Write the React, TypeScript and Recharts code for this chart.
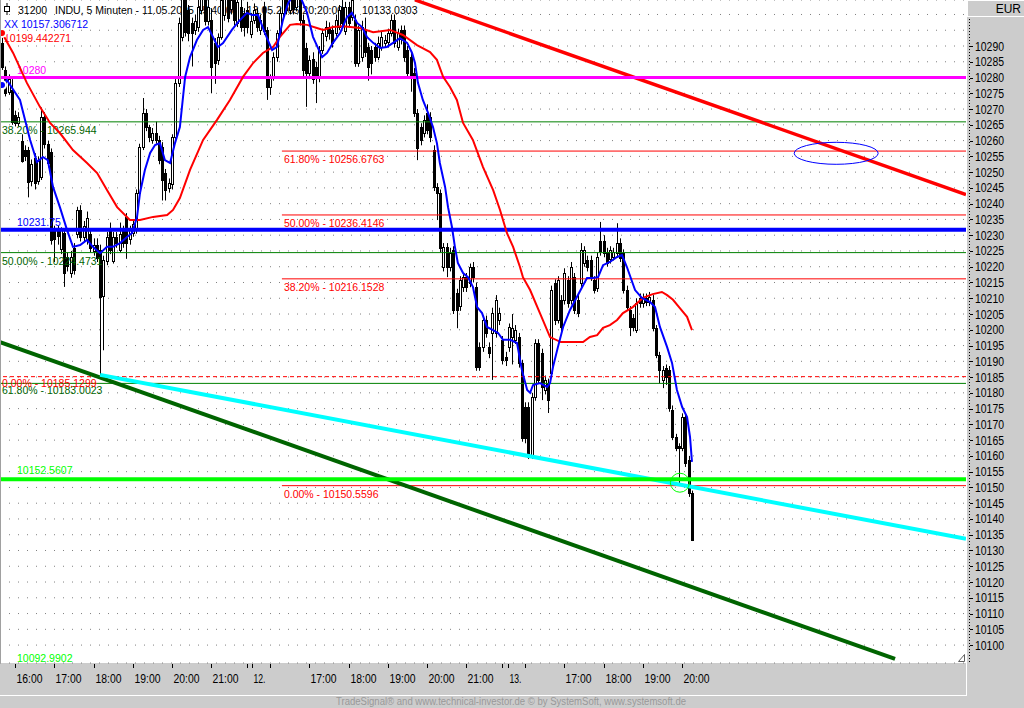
import React from "react";
import {
  ComposedChart,
  Bar,
  Line,
  XAxis,
  YAxis,
  CartesianGrid,
  ReferenceLine,
  ReferenceDot,
  Customized,
} from "recharts";

const FONT = "'Liberation Sans', Arial, sans-serif";
const FS = 10.5;

// INDU 5-minute bars, 11.05.2005 15:40 .. 13.05.2005 20:20 (bar index 0..211)
const opens = [
  10291, 10282.4, 10275.5, 10276, 10268, 10265.5, 10260, 10257, 10257, 10247,
  10254.5, 10247, 10248.5, 10267.5, 10259, 10256.4, 10231.5, 10231.5, 10225.5, 10230.7,
  10223, 10218, 10226, 10230.5, 10238, 10229.5, 10228.5, 10230.5, 10225, 10227,
  10225.3, 10210.5, 10222, 10231.5, 10222, 10229.5, 10225.5, 10231.5, 10235.8, 10228.5,
  10230.5, 10231.6, 10243.4, 10258, 10268.7, 10264.3, 10260.2, 10262.4, 10260.2, 10258,
  10249.7, 10245, 10246, 10261, 10278.2, 10293, 10306, 10301.4, 10297.3, 10295,
  10296, 10301.5, 10305, 10298, 10298.2, 10291, 10285.6, 10292.9, 10300, 10305,
  10301.5, 10304.5, 10297.3, 10302.5, 10300.5, 10301.5, 10294, 10298.2, 10300.5, 10295,
  10302.5, 10295, 10277, 10280, 10286.5, 10294, 10300.5, 10305.5, 10301.5, 10306,
  10302.5, 10304.5, 10298.2, 10289.4, 10281.5, 10286, 10283.4, 10280, 10288.7, 10293,
  10296, 10295, 10294, 10296, 10302.5, 10295, 10302.5, 10299, 10298.2, 10284.6,
  10286.5, 10295, 10289.7, 10288.7, 10289.7, 10286.5, 10289.7, 10290.9, 10291, 10294,
  10298.2, 10289.7, 10295, 10295, 10288.7, 10286.5, 10281.4, 10268.7, 10264.3, 10262.4,
  10268.7, 10267.5, 10257, 10245.3, 10243.4, 10220, 10226.3, 10220, 10225.3, 10211.6,
  10207.5, 10213.6, 10216.7, 10214.8, 10219.9, 10213.6, 10194.5, 10194.5, 10203.1, 10194.5,
  10199, 10199, 10203.1, 10196.8, 10191.4, 10194.5, 10197.7, 10196.8, 10197.7, 10189.4,
  10175.5, 10175.5, 10159.6, 10178.7, 10195.8, 10192.6, 10181, 10183, 10186.3, 10214.8,
  10203.1, 10209.5, 10209.5, 10215.8, 10209.5, 10216.7, 10209.5, 10214.8, 10221.2, 10222.1,
  10222.1, 10215.8, 10213.2, 10228, 10228, 10224.7, 10222.5, 10223.1, 10224.3, 10227.5,
  10224.3, 10212.6, 10206.3, 10203.7, 10200, 10210, 10208.5, 10210, 10208.8, 10209.5,
  10200.6, 10192, 10184.1, 10187.8, 10187.2, 10174.6, 10166, 10163, 10162.5, 10172.3,
  10158.7, 10148.2,
];

const highs = [
  10294, 10283.5, 10281, 10279.5, 10269.5, 10269, 10262, 10258.5, 10258, 10254,
  10256, 10255, 10270.5, 10269, 10260, 10257.5, 10233, 10233, 10232.5, 10232,
  10224.5, 10225, 10227.5, 10239, 10239.5, 10234.5, 10237.5, 10232, 10229, 10229,
  10227, 10223.5, 10231, 10234, 10231, 10231, 10234, 10233, 10237, 10233,
  10235, 10244.5, 10259, 10273.5, 10270, 10265, 10264, 10266, 10261.5, 10259.5,
  10251, 10248, 10262, 10279.5, 10299, 10309, 10310, 10303, 10299, 10300,
  10306, 10308, 10308, 10305, 10302, 10292.5, 10294, 10307, 10310, 10309,
  10310, 10308, 10307, 10305, 10302, 10304, 10300.5, 10303.5, 10302, 10300,
  10304, 10296, 10281, 10288, 10295, 10302, 10309, 10309, 10310, 10309,
  10310, 10308, 10300, 10291, 10287, 10288, 10285, 10290, 10295.5, 10298,
  10297.5, 10296.5, 10300, 10303, 10305, 10304, 10304, 10308, 10300, 10296.5,
  10298, 10299, 10291, 10290, 10291, 10293, 10294.5, 10293.5, 10295.5, 10300,
  10300, 10295.5, 10296.5, 10296.5, 10290, 10288, 10283, 10270, 10265.5, 10268,
  10271.5, 10269, 10258.5, 10246.5, 10244.5, 10227.5, 10227.5, 10226, 10226.5, 10213,
  10217, 10218, 10218, 10221, 10221.5, 10215, 10196, 10204.5, 10204.5, 10196,
  10207, 10211, 10207, 10198, 10193, 10202, 10205, 10201.5, 10199, 10190.5,
  10177, 10177, 10180, 10197, 10197, 10194, 10185.5, 10184.5, 10214, 10216,
  10217, 10211, 10219.5, 10217, 10221.5, 10218, 10211, 10227.5, 10226.5, 10223.5,
  10223.5, 10217, 10224.5, 10234.2, 10230, 10226, 10226.5, 10226, 10233.8, 10229,
  10225.5, 10214, 10207.5, 10205, 10210, 10211.5, 10211.5, 10211.5, 10212, 10211,
  10201.5, 10193, 10188.5, 10189, 10188.5, 10176, 10167, 10164, 10173.5, 10173.5,
  10160, 10149,
];

const lows = [
  10282.4, 10274, 10274.5, 10265, 10264.5, 10264.5, 10253, 10253.5, 10242, 10245.5,
  10244.5, 10246, 10247.5, 10257.5, 10251.5, 10227, 10221.5, 10227, 10224, 10213.6,
  10218.5, 10216.5, 10217.5, 10229, 10228, 10228, 10227, 10224.5, 10223.5, 10221.5,
  10185.1, 10193.5, 10220.5, 10224, 10221, 10226, 10224.5, 10226, 10222.5, 10227,
  10229.5, 10230.5, 10242.5, 10257, 10263, 10259.5, 10259, 10259, 10252.5, 10241,
  10241, 10243.5, 10244.5, 10260, 10277, 10291.5, 10293, 10291.5, 10283.5, 10293.5,
  10294.5, 10300, 10296.5, 10296.5, 10275, 10278, 10284, 10292, 10298, 10297.5,
  10300, 10296.5, 10296, 10294.5, 10293, 10294, 10292.5, 10297, 10294.5, 10293.5,
  10293.5, 10272.9, 10274.5, 10279, 10285, 10293, 10299, 10300, 10300, 10300,
  10301, 10296.5, 10280, 10270.7, 10279.5, 10278, 10271.9, 10278.5, 10287.5, 10291.5,
  10292, 10289.5, 10293, 10295, 10296, 10293.5, 10296, 10298, 10283.4, 10283.4,
  10285, 10286.5, 10279, 10281, 10285, 10285.5, 10288.5, 10289.5, 10289.5, 10293,
  10289.5, 10288.5, 10290.5, 10285, 10280, 10275.5, 10267.5, 10253.8, 10258.5, 10261,
  10262, 10259.5, 10244, 10234.8, 10224.5, 10218.5, 10216.7, 10218.5, 10205, 10200.5,
  10206, 10212, 10212, 10213.5, 10215, 10187, 10187, 10193, 10197.5, 10191,
  10184.1, 10197.5, 10201.5, 10189, 10188.5, 10193, 10189, 10195.5, 10188, 10164.5,
  10164, 10159, 10159, 10177.5, 10183, 10177.7, 10179.5, 10173.6, 10185, 10201.5,
  10202, 10199.5, 10208, 10207, 10208, 10205, 10204, 10213.5, 10220, 10218.5,
  10215.5, 10211.5, 10212, 10223.5, 10223, 10220, 10221, 10222, 10223, 10221.5,
  10211.5, 10206, 10198, 10199.5, 10199, 10207, 10207, 10207.5, 10207.5, 10199.5,
  10191, 10183, 10181.5, 10182.5, 10174, 10165, 10161.5, 10151.4, 10161.5, 10156.5,
  10147, 10133,
];

const closes = [
  10283.3, 10275, 10279.5, 10266, 10265.5, 10267.5, 10253.8, 10255, 10247, 10252.5,
  10246.5, 10253.5, 10267.5, 10259, 10253, 10228.5, 10228.5, 10229.5, 10231.5, 10218,
  10220, 10223, 10219, 10238, 10229.5, 10233, 10235.5, 10226, 10227, 10223,
  10210.5, 10222, 10229.5, 10225.3, 10229.5, 10227.5, 10230.5, 10227.5, 10227.5, 10231.5,
  10233.5, 10243.4, 10258, 10268.7, 10264.3, 10261, 10262.4, 10260.2, 10253.8, 10247.5,
  10244.3, 10246.5, 10261, 10278.2, 10297.3, 10306, 10294.5, 10294.1, 10294, 10298,
  10302.5, 10305.5, 10298, 10302.5, 10283.4, 10284.6, 10292.9, 10304.5, 10306, 10299,
  10304.5, 10298.2, 10304, 10296, 10296, 10296, 10298, 10301.4, 10296, 10298.2,
  10295, 10277, 10280, 10286.5, 10294, 10300.5, 10306, 10301.5, 10305.5, 10302,
  10306, 10298.2, 10282.4, 10281.4, 10285.6, 10279.8, 10280, 10288.7, 10294, 10296,
  10294, 10291, 10298.2, 10301.4, 10297.3, 10302.5, 10297.3, 10304.5, 10284.6, 10295,
  10296, 10288, 10283.4, 10284.6, 10286.5, 10291, 10292.9, 10291.9, 10294, 10298.2,
  10291, 10294, 10292, 10286.5, 10281.4, 10280, 10268.7, 10257.5, 10260.2, 10266.5,
  10263.4, 10261, 10245.3, 10243.4, 10225.9, 10226.3, 10220, 10224.3, 10206.3, 10206.3,
  10215.8, 10216.7, 10213.6, 10219.9, 10216.7, 10188.2, 10188.2, 10203.1, 10199, 10192.5,
  10205.3, 10209.5, 10205.3, 10190.4, 10190.4, 10200.9, 10200.6, 10199.9, 10189.4, 10165.6,
  10165.6, 10159.6, 10178.7, 10195.8, 10184.1, 10181.9, 10184.1, 10177.7, 10212.6, 10203.1,
  10215.8, 10201, 10218, 10208.5, 10220, 10206.3, 10205.3, 10225.3, 10225.3, 10220,
  10216.7, 10212.6, 10223.1, 10224.7, 10224.3, 10221.2, 10225.3, 10224.7, 10227.5, 10222.8,
  10212.6, 10207.2, 10200.9, 10200.9, 10208.5, 10208.5, 10210, 10208.8, 10210.5, 10200.6,
  10192, 10187.2, 10187.2, 10185, 10175.2, 10166, 10162.5, 10162.5, 10172.3, 10157.6,
  10148.2, 10133.3,
];

// blue average ("XX"), read at bar positions
const fastX = [
  0, 1.5, 5.5, 8.6, 10.7, 12.5, 14, 15.6, 17.7, 19.9,
  21.7, 23.9, 26, 27.8, 30, 32.1, 33.9, 36.1, 38.2, 39.8,
  41.3, 42.2, 43.7, 45.3, 46.8, 48.3, 49.8, 51.4, 52.9, 54.4,
  56, 57.5, 59.6, 61.5, 63, 64.5, 66, 67.6, 70.3, 72.2,
  74.9, 76.5, 78.3, 80.4, 82.6, 84.1, 85.9, 87.5, 89, 91.1,
  93.3, 95.1, 97.9, 99.4, 101.2, 103.4, 105.5, 107, 108.6, 110.1,
  111.6, 113.5, 115.6, 117.7, 119.6, 121.7, 123.9, 125.4, 126.3, 127.2,
  128.7, 130.3, 131.8, 133, 133.9, 135.5, 136.4, 137.6, 138.5, 139.4,
  141, 142.5, 144, 145.3, 146.8, 148.3, 150.2, 151.7, 153.2, 155.4,
  157.5, 159, 160.6, 161.5, 162.4, 164.5, 166.7, 167.6, 168.5, 170,
  171.6, 173.7, 175.8, 178.9, 180.7, 182.3, 183.8, 185.9, 188.1, 189.6,
  191.1, 193.6, 195.7, 198.2, 199.7, 201.2, 203.4, 204.9, 206.4, 208,
  209.5, 210.4, 211,
];
const fastY = [
  10277.6, 10279.2, 10272.9, 10260.2, 10253.2, 10254.8, 10253.8, 10245.3, 10238.9, 10231.6,
  10226.3, 10226.9, 10228.5, 10226.3, 10224.3, 10226.3, 10226.3, 10227.5, 10229.4, 10230.7,
  10235.8, 10243.4, 10250.7, 10256.1, 10258.6, 10259.2, 10253.8, 10252.9, 10259.2, 10264.3,
  10280.2, 10286.5, 10291.9, 10295.1, 10296.0, 10292.9, 10289.7, 10290.9, 10295.1, 10297.6,
  10300.5, 10299.8, 10299.8, 10294.1, 10288.7, 10289.7, 10298.2, 10303.6, 10306, 10306,
  10300.5, 10292.9, 10286.5, 10287.8, 10291.0, 10294.1, 10299.2, 10300.5, 10297.3, 10296.0,
  10292.9, 10291.0, 10289.4, 10289.7, 10291.0, 10292.5, 10291.0, 10287.8, 10284.6, 10278.3,
  10272.9, 10268.8, 10264.3, 10259.2, 10252.9, 10245.3, 10238.9, 10232.6, 10226.3, 10221.2,
  10218.0, 10216.7, 10213.6, 10207.2, 10205.3, 10200.9, 10199.9, 10199.0, 10196.8, 10196.8,
  10195.8, 10187.2, 10180.9, 10180.0, 10182.5, 10183.1, 10181.9, 10183.1, 10188.2, 10194.5,
  10200.9, 10206.3, 10210.4, 10216.4, 10216.4, 10216.7, 10220.5, 10221.5, 10223.1, 10223.7,
  10219.9, 10212.6, 10210.1, 10208.8, 10207.2, 10200.9, 10194.5, 10189.5, 10180.9, 10175.5,
  10172.3, 10166.0, 10158.1,
];

// red average
const slowX = [
  0, 3.4, 7.6, 11.6, 14.7, 17.7, 21.7, 26, 29.1, 32.1,
  35.2, 39.1, 42.2, 46.2, 50.5, 52.3, 54.4, 57.5, 61.5, 65.7,
  69.7, 73.7, 76.8, 79.8, 82.9, 85, 88.1, 90.2, 93.3, 96.3,
  98.2, 101.2, 104.3, 109.5, 113.5, 118.7, 122.6, 126.9, 130.9, 133,
  134.9, 137, 139.1, 141, 144, 147.1, 150.2, 152.3, 154.4, 156.3,
  158.4, 159.3, 161.5, 164.5, 167.6, 170.9, 174.6, 177.7, 179.8, 182,
  183.8, 185.9, 188.1, 189.9, 192.9, 196, 199, 201.8, 203.4, 205.2,
  207.3, 209.5, 211,
];
const slowY = [
  10294.1, 10287.8, 10278.3, 10270.7, 10265.6, 10262.4, 10257.0, 10252.9, 10249.7, 10244.3,
  10238.9, 10234.8, 10234.8, 10235.8, 10236.4, 10238.0, 10241.8, 10250.7, 10260.2, 10266.5,
  10272.9, 10280.2, 10284.6, 10287.8, 10289.7, 10292.9, 10296.7, 10297.0, 10296.7, 10295.7,
  10295.1, 10296.0, 10296.3, 10295.7, 10294.4, 10295.1, 10293.5, 10290.3, 10288.1, 10285.6,
  10280.2, 10277.0, 10272.9, 10265.6, 10260.2, 10251.6, 10244.3, 10238.0, 10230.7, 10226.3,
  10219.9, 10216.7, 10212.6, 10205.3, 10197.7, 10196.1, 10196.1, 10196.1, 10197.7, 10198.3,
  10200.6, 10201.5, 10203.1, 10205.3, 10207.2, 10210.1, 10211.3, 10212.0, 10211.0, 10209.5,
  10206.9, 10204.1, 10199.9,
];

const yTicks = [
  10100, 10105, 10110, 10115, 10120, 10125, 10130, 10135, 10140, 10145,
  10150, 10155, 10160, 10165, 10170, 10175, 10180, 10185, 10190, 10195,
  10200, 10205, 10210, 10215, 10220, 10225, 10230, 10235, 10240, 10245,
  10250, 10255, 10260, 10265, 10270, 10275, 10280, 10285, 10290, 10295, 10300,
];

const xTicks = [4, 16, 28, 40, 52, 64, 75, 76.5, 82, 94, 106, 118, 130, 142, 153, 154.7, 160, 172, 184, 196, 208];
const xTickLabels = [
  "16:00", "17:00", "18:00", "19:00", "20:00", "21:00", "", "12.", "",
  "17:00", "18:00", "19:00", "20:00", "21:00", "", "13.", "",
  "17:00", "18:00", "19:00", "20:00",
];

// fibonacci set 1 (dark green) and its 0% level (red dashed)
const greenFibValues = [10265.944, 10224.4731, 10183.0023];
const greenFibTexts = ["38.20% - 10265.944", "50.00% - 10224.4731", "61.80% - 10183.0023"];
// fibonacci set 2 (red), starting at bar 85.6
const redFibStart = 85.6;
const redFibValues = [10256.6763, 10236.4146, 10216.1528, 10150.5596];
const redFibTexts = ["61.80% - 10256.6763", "50.00% - 10236.4146", "38.20% - 10216.1528", "0.00% - 10150.5596"];

// trend lines [bar, price]
const redTrend = [{ x: 126.3, y: 10304.6 }, { x: 294.8, y: 10242.9 }];
const darkTrend = [{ x: -0.6, y: 10196.1 }, { x: 273.1, y: 10095.6 }];
const cyanTrend = [{ x: 30, y: 10185.7 }, { x: 294.8, y: 10133.7 }];

const X_DOMAIN = [-0.612, 294.8];
const Y_DOMAIN = [10094.32, 10304.59];

const candles = opens.map((o, i) => ({ i, o, h: highs[i], l: lows[i], c: closes[i] }));
const fastLine = fastX.map((x, k) => ({ i: x, v: fastY[k] }));
const slowLine = slowX.map((x, k) => ({ i: x, v: slowY[k] }));

function Candle(props: any) {
  const p = props.payload ?? props;
  let { x, y, width, height } = props;
  if (p == null || p.h == null) return <g />;
  if (height < 0) {
    y += height;
    height = -height;
  }
  const k = p.h > p.l ? height / (p.h - p.l) : 0;
  const cx = Math.round(x + width / 2);
  const yo = y + (p.h - p.o) * k;
  const yc = y + (p.h - p.c) * k;
  const top = Math.round(Math.min(yo, yc)) + 0.5;
  const bh = Math.max(Math.round(Math.abs(yc - yo)), 1);
  return (
    <g>
      <line x1={cx + 0.5} x2={cx + 0.5} y1={y} y2={y + height} stroke="#000" strokeWidth={1} />
      <rect x={cx - 0.5} y={top} width={2} height={bh} fill={p.c >= p.o ? "#fff" : "#000"} stroke="#000" strokeWidth={1} />
    </g>
  );
}

function Tag(props: any) {
  const { viewBox, text, color, dx, dy } = props;
  if (!viewBox) return null;
  return (
    <text x={viewBox.x + dx} y={viewBox.y + dy} fill={color} fontSize={FS} fontFamily={FONT}>
      {text}
    </text>
  );
}

function XTick(props: any) {
  const { x, payload } = props;
  const k = xTicks.indexOf(payload.value);
  const label = xTickLabels[k] || "";
  const px = Math.round(x) + 0.5;
  return (
    <g>
      <line x1={px} x2={px} y1={664} y2={668} stroke="#000" />
      {label ? (
        <text x={px + 1} y={683} fontSize={12.5} fontFamily={FONT} fill="#000" textLength={label.length > 3 ? 26 : 12} lengthAdjust="spacingAndGlyphs">
          {label}
        </text>
      ) : null}
    </g>
  );
}

function YTick(props: any) {
  const { y, payload } = props;
  if (payload.value > 10290) return <g />;
  const py = Math.round(y) + 0.5;
  return (
    <g>
      <line x1={970} x2={973} y1={py} y2={py} stroke="#000" />
      <text x={975} y={y + 4.5} fontSize={12} fontFamily={FONT} fill="#000" textLength={29} lengthAdjust="spacingAndGlyphs">
        {payload.value}
      </text>
    </g>
  );
}

function TitleLayer() {
  return (
    <g fontFamily={FONT} fontSize={FS}>
      <rect x={4.5} y={6.5} width={5} height={5} fill="none" stroke="#000" />
      <line x1={7} x2={7} y1={3} y2={6} stroke="#000" />
      <line x1={7} x2={7} y1={12} y2={15} stroke="#000" />
      <text x={18} y={14} fill="#000">31200</text>
      <text x={55} y={14} fill="#000">INDU, 5 Minuten - 11.05.2005 15:40:00 - 13.05.2005 20:20:00</text>
      <text x={362} y={14} fill="#000">10133.0303</text>
      <text x={4} y={27.5} fill="#0000ff">XX 10157.306712</text>
      <text x={4} y={41.5} fill="#ff0000">10199.442271</text>
      <text x={17} y={662} fill="#00ff00">10092.9902</text>
    </g>
  );
}

export default function App() {
  return (
    <div style={{ position: "absolute", left: 0, top: 0, width: 1024, height: 708, background: "#cccccc", overflow: "hidden" }}>
      <ComposedChart width={1024} height={708} data={candles} margin={{ top: 0, right: 0, bottom: 13, left: 0 }}>
        <CartesianGrid vertical={false} stroke="#808080" strokeDasharray="1 8" fill="#ffffff" fillOpacity={1} />
        <XAxis
          dataKey="i"
          type="number"
          domain={X_DOMAIN}
          allowDataOverflow
          ticks={xTicks}
          interval={0}
          tick={<XTick />}
          tickLine={false}
          axisLine={false}
          height={32}
        />
        <YAxis
          orientation="right"
          type="number"
          domain={Y_DOMAIN}
          allowDataOverflow
          ticks={yTicks}
          interval={0}
          tick={<YTick />}
          tickLine={false}
          axisLine={false}
          width={58}
        />
        <Customized component={TitleLayer} />
        <Bar dataKey={(d: any) => [d.l, d.h]} barSize={3} shape={<Candle />} isAnimationActive={false} />

        {greenFibValues.map((v, k) => (
          <ReferenceLine key={"g" + k} y={v} stroke="#008000" strokeWidth={1}
            label={<Tag text={greenFibTexts[k]} color="#006400" dx={2} dy={k === 2 ? 11 : 12} />} />
        ))}
        <ReferenceLine y={10185.1299} stroke="#ff0000" strokeWidth={1} strokeDasharray="4 3"
          label={<Tag text="0.00% - 10185.1299" color="#ff0000" dx={2} dy={10} />} />
        {redFibValues.map((v, k) => (
          <ReferenceLine key={"r" + k} segment={[{ x: redFibStart, y: v }, { x: X_DOMAIN[1], y: v }]} ifOverflow="hidden"
            stroke="#ff0000" strokeWidth={1}
            label={<Tag text={redFibTexts[k]} color="#ff0000" dx={2} dy={12} />} />
        ))}

        <ReferenceLine segment={darkTrend} ifOverflow="hidden" stroke="#006400" strokeWidth={4} />
        <ReferenceLine segment={cyanTrend} ifOverflow="hidden" stroke="#00ffff" strokeWidth={4} />
        <ReferenceLine segment={redTrend} ifOverflow="hidden" stroke="#ff0000" strokeWidth={3.5} />

        <ReferenceLine y={10280} stroke="#ff00ff" strokeWidth={3}
          label={<Tag text="10280" color="#ff00ff" dx={17} dy={-4} />} />
        <ReferenceLine y={10231.75} stroke="#0000ff" strokeWidth={4}
          label={<Tag text="10231.75" color="#0000ff" dx={17} dy={-4} />} />
        <ReferenceLine y={10152.5607} stroke="#00ff00" strokeWidth={4}
          label={<Tag text="10152.5607" color="#00ff00" dx={17} dy={-5} />} />

        <Line data={slowLine} dataKey="v" type="linear" stroke="#ff0000" strokeWidth={2} dot={false} isAnimationActive={false} />
        <Line data={fastLine} dataKey="v" type="linear" stroke="#0000ff" strokeWidth={2} dot={false} isAnimationActive={false} />

        <ReferenceDot x={255.1} y={10255.97} r={10}
          shape={(p: any) => <ellipse cx={p.cx} cy={p.cy} rx={42} ry={11} fill="none" stroke="#0000ff" strokeWidth={1} />} />
        <ReferenceDot x={207.3} y={10151.5} r={10}
          shape={(p: any) => <circle cx={p.cx} cy={p.cy} r={9.5} fill="none" stroke="#00ff00" strokeWidth={1} />} />
      </ComposedChart>

      <svg width={1024} height={708} style={{ position: "absolute", left: 0, top: 0, pointerEvents: "none" }} fontFamily={FONT}>
        <line x1={0.5} x2={0.5} y1={0} y2={663} stroke="#a0a0a0" />
        <line x1={966.5} x2={966.5} y1={0} y2={696} stroke="#ffffff" />
        <line x1={0} x2={967} y1={695.5} y2={695.5} stroke="#ffffff" />
        <line x1={969.5} x2={969.5} y1={19} y2={663} stroke="#000" strokeDasharray="1 2" />
        <rect x={967.5} y={0.5} width={57} height={16} fill="#cccccc" stroke="#ffffff" />
        <text x={1021} y={13} fontSize={12} textAnchor="end" fill="#000">EUR</text>
        <path d="M958.5 661.5 L964.5 661.5 L964.5 654.5 Z" fill="none" stroke="#606060" />
        <text x={511} y={705} fontSize={10} textAnchor="middle" fill="#999999" textLength={350} lengthAdjust="spacingAndGlyphs">
          TradeSignal® and www.technical-investor.de © by SystemSoft, www.systemsoft.de
        </text>
      </svg>
    </div>
  );
}
